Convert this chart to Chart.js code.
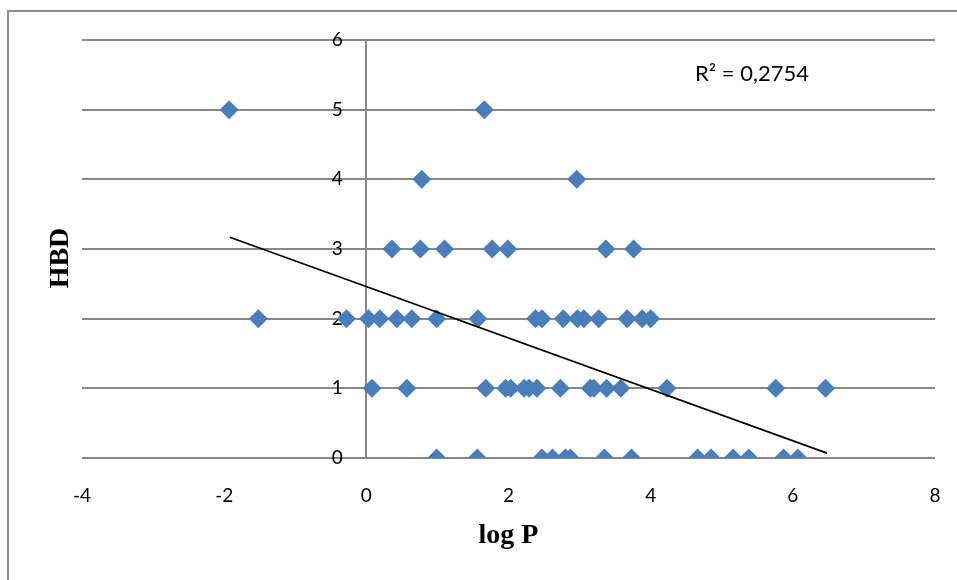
<!DOCTYPE html>
<html>
<head>
<meta charset="utf-8">
<script src="https://cdn.jsdelivr.net/npm/chart.js@4/dist/chart.umd.min.js"></script>
<style>
  html, body { margin: 0; padding: 0; background: #fff; }
  #chartCanvas { display: block; }
</style>
</head>
<body>
<canvas id="chartCanvas" width="957" height="580"></canvas>
<script>
// log P values, grouped by HBD count
const logP_hbd0 = [0.99, 1.56, 2.47, 2.62, 2.80, 2.87, 3.35, 3.73, 4.66, 4.85, 5.16, 5.38, 5.87, 6.07];
const logP_hbd1 = [0.08, 0.57, 1.68, 1.96, 2.03, 2.22, 2.29, 2.40, 2.73, 3.15, 3.20, 3.38, 3.58, 4.23, 5.76, 6.46];
const logP_hbd2 = [-1.52, -0.28, 0.03, 0.19, 0.43, 0.64, 0.99, 1.57, 2.38, 2.47, 2.77, 2.97, 3.06, 3.27, 3.67, 3.88, 4.00];
const logP_hbd3 = [0.36, 0.76, 1.10, 1.77, 1.99, 3.37, 3.76];
const logP_hbd4 = [0.78, 2.96];
const logP_hbd5 = [-1.93, 1.66];

// linear trendline end points (x, y)
const trendX = [-1.92, 6.48];
const trendY = [3.17, 0.07];
const rSquared = 'R² = 0,2754';

const xTicks = [-4, -2, 0, 2, 4, 6, 8];
const yTicks = [0, 1, 2, 3, 4, 5, 6];

const groups = [logP_hbd0, logP_hbd1, logP_hbd2, logP_hbd3, logP_hbd4, logP_hbd5];
const points = [];
groups.forEach((xs, hbd) => xs.forEach(x => points.push({ x: x, y: hbd })));

const trendPoints = trendX.map((x, i) => ({ x: x, y: trendY[i] }));

const GRID = '#878787';

// frame, y title and R² label
const extras = {
  id: 'extras',
  beforeDraw(chart) {
    const ctx = chart.ctx;
    ctx.save();
    ctx.fillStyle = '#fff';
    ctx.fillRect(0, 0, chart.width, chart.height);
    ctx.strokeStyle = '#8e8e8e';
    ctx.lineWidth = 2;
    ctx.strokeRect(8, 11, chart.width + 10, chart.height + 10);
    ctx.restore();
  },
  afterDraw(chart) {
    const ctx = chart.ctx;
    ctx.save();
    ctx.fillStyle = '#000';
    ctx.font = 'bold 28px "Liberation Serif"';
    ctx.translate(68, 258);
    ctx.rotate(-Math.PI / 2);
    ctx.textAlign = 'center';
    ctx.textBaseline = 'alphabetic';
    ctx.fillText('HBD', 0, 0);
    ctx.restore();

    ctx.save();
    ctx.fillStyle = '#000';
    ctx.font = '22px Lato';
    ctx.textAlign = 'left';
    ctx.textBaseline = 'middle';
    ctx.fillText(rSquared, 695, 74);
    ctx.restore();
  }
};

const ctx = document.getElementById('chartCanvas').getContext('2d');
new Chart(ctx, {
  type: 'scatter',
  data: {
    datasets: [
      {
        label: 'HBD',
        data: points,
        pointStyle: 'rectRot',
        pointRadius: 9.5,
        pointHoverRadius: 9.5,
        backgroundColor: '#4a7ebb',
        borderColor: '#4a7ebb',
        borderWidth: 0,
        order: 1
      },
      {
        type: 'line',
        label: 'Linear (HBD)',
        data: trendPoints,
        borderColor: '#000',
        borderWidth: 1.6,
        pointRadius: 0,
        fill: false,
        tension: 0,
        order: 0
      }
    ]
  },
  options: {
    responsive: false,
    animation: false,
    layout: { padding: { left: 82, right: 22, top: 40, bottom: 0 } },
    plugins: {
      legend: { display: false },
      tooltip: { enabled: false }
    },
    scales: {
      x: {
        type: 'linear',
        position: 'bottom',
        min: -4,
        max: 8,
        afterBuildTicks: s => { s.ticks = xTicks.map(v => ({ value: v })); },
        afterFit: s => {
          s.height = 122;
          // tick padding would otherwise be added to the side padding
          s.paddingLeft = 12;
          s.paddingRight = 12;
        },
        // only the zero line is shown: it is the vertical axis
        grid: {
          color: c => (c.tick && c.tick.value === 0 ? GRID : 'rgba(0,0,0,0)'),
          lineWidth: 2,
          drawTicks: false
        },
        border: { display: false },
        ticks: {
          padding: 26,
          color: '#000',
          font: { family: 'Lato', size: 19 },
          maxRotation: 0
        },
        title: {
          display: true,
          text: 'log P',
          color: '#000',
          font: { family: '"Liberation Serif"', size: 28, weight: 'bold' },
          padding: { top: 0, bottom: 27 }
        }
      },
      y: {
        type: 'linear',
        position: { x: -0.33 },
        min: 0,
        max: 6,
        afterBuildTicks: s => { s.ticks = yTicks.map(v => ({ value: v })); },
        grid: { color: GRID, lineWidth: 2, drawTicks: false },
        border: { display: false },
        ticks: {
          padding: 0,
          color: '#000',
          font: { family: 'Lato', size: 19 }
        }
      }
    }
  },
  plugins: [extras]
});
</script>
</body>
</html>
